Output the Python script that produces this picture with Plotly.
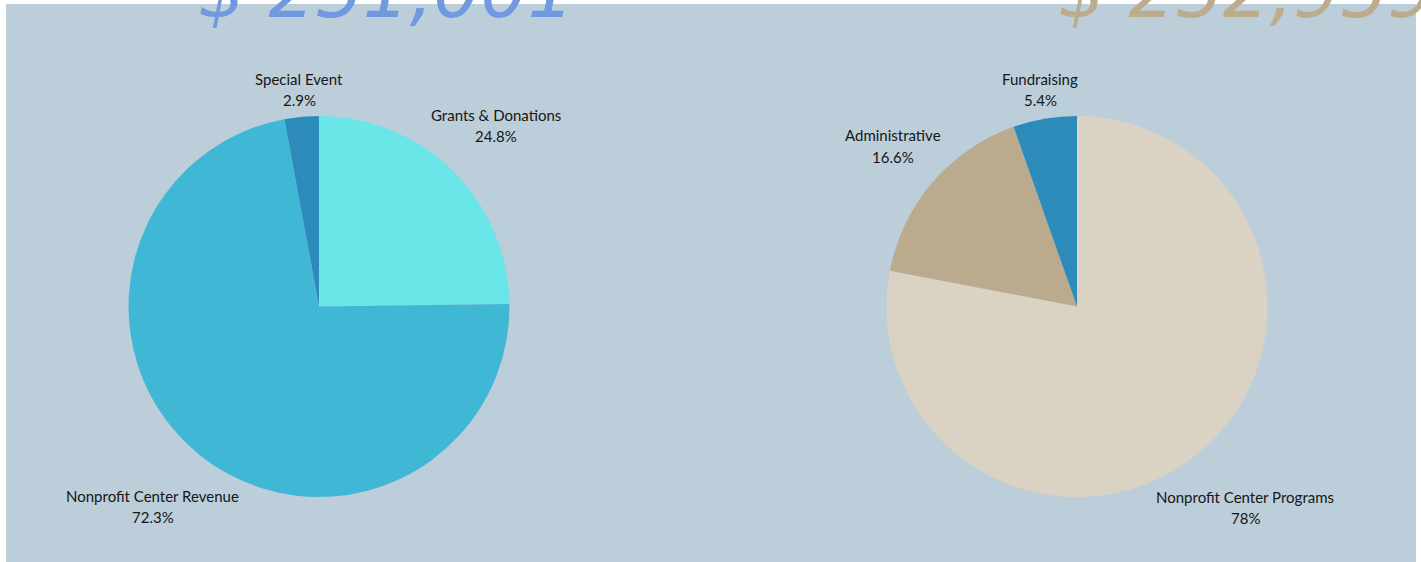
import math
import plotly.graph_objects as go

W, H = 1421, 562

rev_labels = ["Grants & Donations", "Nonprofit Center Revenue", "Special Event"]
rev_values = [24.8, 72.3, 2.9]
rev_colors = ["#6AE5E8", "#41B7D6", "#2C8BBA"]

exp_labels = ["Nonprofit Center Programs", "Administrative", "Fundraising"]
exp_values = [78.0, 16.6, 5.4]
exp_colors = ["#DAD3C3", "#BAAB8F", "#2C8BBA"]

totals = ["$ 251,001", "$ 252,959"]
total_colors = ["#7099E0", "#BDAB8E"]

# layout geometry (pixels)
mt, mb = 116, 65
ph = H - mt - mb
r = ph / 2
cy = mt + r
centers = [319, 1077]


def dom(cx):
    return [(cx - r) / W, (cx + r) / W]


def py(y):
    return (H - mb - y) / ph


label_font = dict(family="Lato, 'Noto Sans', sans-serif", size=15, color="#161616")

fig = go.Figure()
for labels, values, colors, cx in [
    (rev_labels, rev_values, rev_colors, centers[0]),
    (exp_labels, exp_values, exp_colors, centers[1]),
]:
    fig.add_trace(go.Pie(
        labels=labels, values=values, sort=False, direction="clockwise",
        rotation=0, marker=dict(colors=colors, line=dict(width=0)),
        textinfo="none", domain=dict(x=dom(cx), y=[0, 1]),
        showlegend=False, hoverinfo="label+percent",
    ))
    # outside labels placed along each slice's mid angle
    total = sum(values)
    acc = 0.0
    for lab, v in zip(labels, values):
        mid = (acc + v / 2) / total * 2 * math.pi
        acc += v
        vx, vy = math.sin(mid), -math.cos(mid)
        hw = 7.1 * len(lab) / 2
        hh = 18
        d = r + abs(vx) * hw + abs(vy) * hh + 3
        lx, ly = cx + vx * d, cy + vy * d
        pct = f"{v / total * 100:.1f}".rstrip("0").rstrip(".") + "%"
        for txt, dy in [(lab, -13), (pct, 8.5)]:
            fig.add_annotation(text=txt, xref="paper", yref="paper", x=lx / W, y=py(ly + dy),
                               xanchor="center", yanchor="middle", showarrow=False,
                               font=label_font)

fig.add_shape(type="rect", xref="paper", yref="paper", x0=6 / W, x1=1416 / W,
              y0=py(H + 5), y1=py(4), fillcolor="#BCCED9", line=dict(width=0), layer="below")

for txt, col, x in zip(totals, total_colors, [196, 1056]):
    fig.add_annotation(text=txt, xref="paper", yref="paper", x=x / W, y=py(36),
                       xanchor="left", yanchor="bottom", showarrow=False,
                       font=dict(family="DejaVu Sans", size=74, color=col, style="italic"))

fig.update_layout(
    width=W, height=H, paper_bgcolor="white", plot_bgcolor="white",
    margin=dict(l=0, r=0, t=mt, b=mb, autoexpand=False),
)
fig.write_html("out.html", config={"displayModeBar": False},
               post_script="document.body.style.margin='0px';")
